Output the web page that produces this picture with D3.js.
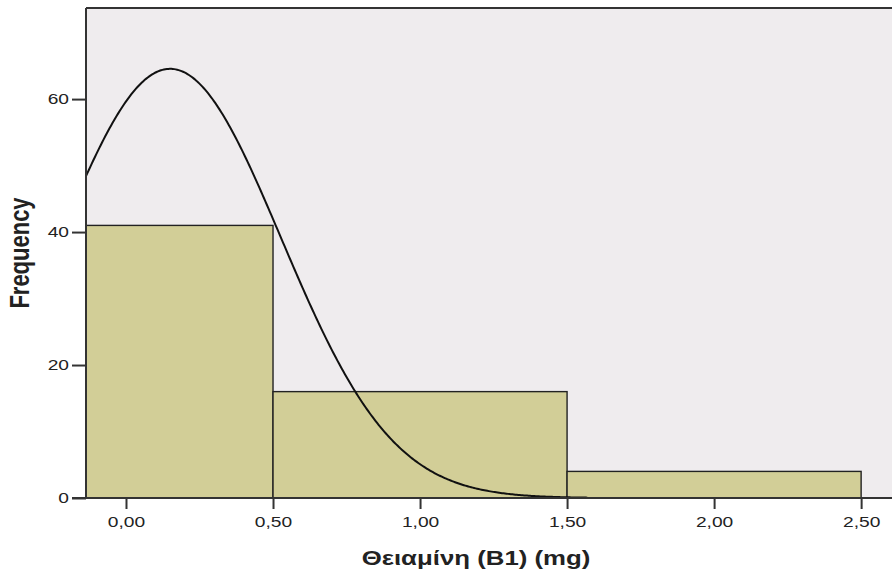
<!DOCTYPE html>
<html>
<head>
<meta charset="utf-8">
<script src="https://cdn.jsdelivr.net/npm/d3@7"></script>
<style>
    body { margin: 0; background: #fff; }
    text { font-family: "Liberation Sans", Arial, sans-serif; fill: #222; }
</style>
</head>
<body>
<svg id="chart" width="892" height="572"></svg>
<script>
'use strict';

// Histogram bins (lower bound, upper bound, count)
const binStarts = [-0.5, 0.5, 1.5];
const binEnds = [0.5, 1.5, 2.5];
const binCounts = [41, 16, 4];

// Normal curve fitted to the data
const curveMean = 0.15;
const curveSd = 0.377;
const curveN = 61;
const binWidth = 1;
const curveEnd = 1.57;

const xTicks = [0, 0.5, 1, 1.5, 2, 2.5];
const yTicks = [0, 20, 40, 60];

const margin = { left: 86, top: 8, right: -10, bottom: 74 };
const width = 892 - margin.left - margin.right;
const height = 572 - margin.top - margin.bottom;

// The original picture is stretched sideways, so text is widened a bit
const stretch = 1.28;

const svg = d3.select('#chart');

const x = d3.scaleLinear()
    .domain([-0.136, 2.639])
    .range([margin.left, margin.left + width]);

const y = d3.scaleLinear()
    .domain([0, 73.7])
    .range([margin.top + height, margin.top]);

// Clip so the first bin is cut at the plot edge
svg.append('clipPath')
    .attr('id', 'plot-clip')
  .append('rect')
    .attr('x', margin.left)
    .attr('y', margin.top)
    .attr('width', width)
    .attr('height', height);

// Plot background
svg.append('rect')
    .attr('x', margin.left)
    .attr('y', margin.top)
    .attr('width', width)
    .attr('height', height)
    .attr('fill', '#efecee');

const plot = svg.append('g').attr('clip-path', 'url(#plot-clip)');

// Bars
plot.selectAll('rect.bar')
    .data(binCounts)
    .enter()
    .append('rect')
      .attr('class', 'bar')
      .attr('x', (d, i) => x(binStarts[i]))
      .attr('width', (d, i) => x(binEnds[i]) - x(binStarts[i]))
      .attr('y', d => y(d))
      .attr('height', d => y(0) - y(d))
      .attr('fill', '#d2ce97')
      .attr('stroke', '#222')
      .attr('stroke-width', 1.4);

// Normal curve
const curveXs = d3.range(-0.136, curveEnd, 0.005);
const normal = v => curveN * binWidth / (curveSd * Math.sqrt(2 * Math.PI)) *
    Math.exp(-0.5 * Math.pow((v - curveMean) / curveSd, 2));

plot.append('path')
    .datum(curveXs)
    .attr('d', d3.line().x(d => x(d)).y(d => y(normal(d))))
    .attr('fill', 'none')
    .attr('stroke', '#111')
    .attr('stroke-width', 2);

// Frame: top border
svg.append('line')
    .attr('x1', margin.left).attr('x2', margin.left + width)
    .attr('y1', margin.top).attr('y2', margin.top)
    .attr('stroke', '#333').attr('stroke-width', 2);

// Y axis
const yAxis = svg.append('g')
    .attr('transform', `translate(${margin.left}, 0)`)
    .call(d3.axisLeft(y).tickValues(yTicks).tickSize(14).tickFormat(d3.format('d')));
yAxis.select('.domain').remove();
yAxis.selectAll('.tick line').attr('stroke', '#333').attr('stroke-width', 2);
yAxis.selectAll('.tick text')
    .style('font-size', '15px')
    .attr('fill', '#222')
    .attr('x', -17 / stretch)
    .attr('transform', `scale(${stretch}, 1)`);
svg.append('line')
    .attr('x1', margin.left).attr('x2', margin.left)
    .attr('y1', margin.top).attr('y2', margin.top + height)
    .attr('stroke', '#333').attr('stroke-width', 2);

// X axis
const xAxis = svg.append('g')
    .attr('transform', `translate(0, ${margin.top + height})`)
    .call(d3.axisBottom(x).tickValues(xTicks).tickSize(11).tickPadding(7)
        .tickFormat(d => d3.format('.2f')(d).replace('.', ',')));
xAxis.select('.domain').remove();
xAxis.selectAll('.tick line').attr('stroke', '#333').attr('stroke-width', 2);
xAxis.selectAll('.tick text')
    .style('font-size', '15px')
    .attr('fill', '#222')
    .attr('transform', `scale(${stretch}, 1)`);
svg.append('line')
    .attr('x1', margin.left - 14).attr('x2', margin.left + width)
    .attr('y1', margin.top + height).attr('y2', margin.top + height)
    .attr('stroke', '#333').attr('stroke-width', 2);

// Axis titles
svg.append('text')
    .attr('transform', `translate(476, 565) scale(${stretch * 0.96}, 1)`)
    .attr('text-anchor', 'middle')
    .style('font-size', '21px')
    .style('font-weight', 'bold')
    .text('Θειαμίνη (B1) (mg)');

svg.append('text')
    .attr('transform', `translate(29, 253) rotate(-90) scale(1, ${stretch})`)
    .attr('text-anchor', 'middle')
    .style('font-size', '22px')
    .style('font-weight', 'bold')
    .text('Frequency');
</script>
</body>
</html>
